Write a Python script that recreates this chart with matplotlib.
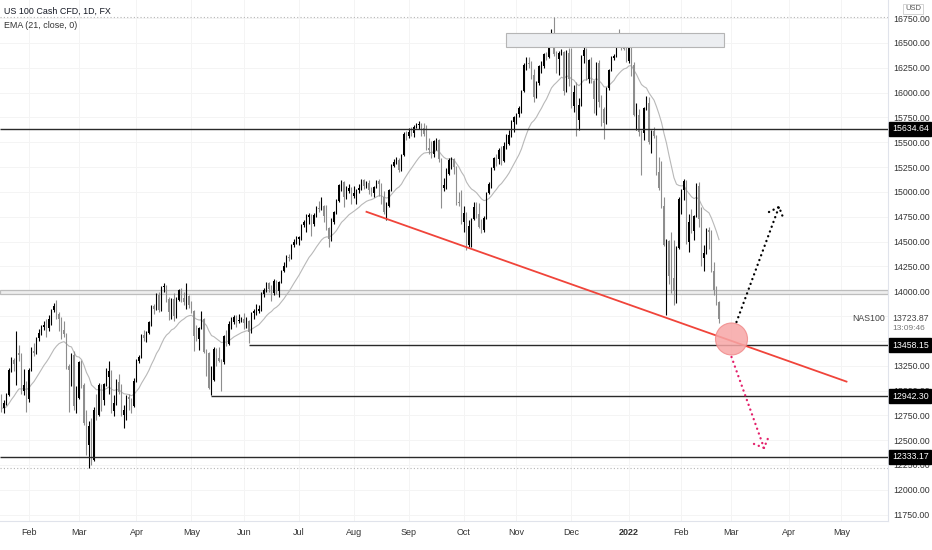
import numpy as np
import pandas as pd
import matplotlib
matplotlib.use("Agg")
import matplotlib.pyplot as plt
from matplotlib.patches import Rectangle, Ellipse
from matplotlib.transforms import blended_transform_factory

plt.rcParams['font.family'] = ['Liberation Sans', 'DejaVu Sans']

# daily candles, US 100 cash CFD, 2021-01-15 .. 2022-02-22 (weekdays)
start = "2021-01-15"

opens = [
    12930, 12820, 12870, 12950, 13210, 13310, 13270, 13380, 13360, 13000, 13060,
    12910, 13210, 13400, 13380, 13530, 13580, 13640, 13660, 13630, 13720, 13810, 13850, 13770, 13720, 13610, 13570, 13250, 13210, 13360, 12840,
    12920, 13290, 13060, 12670, 12450, 12640, 12300, 12800, 12750, 13060, 12900, 13070, 13140, 13200, 12790, 12870, 13090, 12990, 12750, 12800, 12930, 12910, 12840,
    13100, 13300, 13340, 13560, 13530, 13580, 13690, 13850, 13820, 13960, 13810, 14040, 14050, 13920, 13790, 13920, 13750, 13910, 14010, 13930, 13890, 13950,
    13860, 13800, 13550, 13520, 13630, 13720, 13390, 13380, 13030, 13110, 13420, 13330, 13300, 13290, 13550, 13470, 13670, 13690, 13740, 13700, 13710,
    13720, 13680, 13700, 13590, 13780, 13800, 13800, 13820, 13970, 14010, 14080, 14020, 13980, 14100, 14000, 14090, 14200, 14250, 14340, 14330, 14470, 14500,
    14530, 14550, 14670, 14700, 14750, 14770, 14680, 14770, 14840, 14830, 14860, 14760, 14640, 14530, 14700, 14800, 14910, 15070, 15100, 14950, 15010, 15040,
    14960, 14990, 15020, 15040, 15120, 15060, 15090, 15020, 14990, 15050, 15110, 15080, 14950, 14800, 14860, 15020, 15260, 15300, 15320, 15220, 15370, 15580,
    15560, 15600, 15590, 15650, 15670, 15680, 15640, 15580, 15440, 15420, 15380, 15510, 15520, 15330, 15040, 15070, 15180, 15320, 15330, 15250, 14900, 14890,
    14700, 14790, 14470, 14660, 14730, 14850, 14780, 14650, 14620, 14740, 14990, 15080, 15240, 15340, 15330, 15420, 15310, 15460, 15480, 15570, 15700,
    15750, 15780, 15850, 16020, 16280, 16300, 16290, 16180, 15960, 16100, 16270, 16270, 16390, 16360, 16560, 16600, 16390, 16340, 16400, 16410, 16020, 16400,
    16140, 15870, 16010, 15720, 15880, 16370, 16430, 16140, 16330, 16120, 15940, 16300, 15910, 15840, 15690, 16050, 16230, 16350, 16370, 16570, 16490, 16480, 16440,
    16320, 16500, 16280, 15770, 15770, 15600, 15590, 15850, 15900, 15500, 15610, 15560, 15200, 15040, 14860, 14470, 14510, 14150, 14130, 14000, 14440,
    14930, 15020, 15110, 14500, 14700, 14610, 14760, 15060, 14730, 14330, 14380, 14620, 14600, 14200, 14010, 13890,
]
highs = [
    12960, 12900, 12980, 13230, 13340, 13330, 13600, 13460, 13380, 13220, 13100,
    13230, 13440, 13480, 13540, 13620, 13660, 13700, 13720, 13760, 13820, 13880, 13910, 13790, 13740, 13700, 13580, 13270, 13380, 13400, 13050,
    13300, 13310, 13080, 12800, 12690, 12720, 12830, 12960, 13080, 13070, 13080, 13230, 13300, 13210, 12950, 13120, 13170, 13070, 12850, 12950, 12970, 12920, 13130,
    13320, 13360, 13570, 13610, 13600, 13700, 13860, 13870, 13980, 13990, 14050, 14080, 14060, 13940, 13930, 13980, 13940, 14020, 14030, 13990, 14080, 13960,
    13900, 13810, 13660, 13640, 13800, 13730, 13420, 13390, 13250, 13440, 13430, 13440, 13320, 13560, 13610, 13700, 13740, 13760, 13760, 13770, 13740,
    13780, 13740, 13710, 13790, 13820, 13870, 13860, 13990, 14030, 14090, 14090, 14060, 14120, 14110, 14100, 14210, 14290, 14360, 14370, 14480, 14530, 14560,
    14560, 14680, 14720, 14780, 14790, 14780, 14790, 14860, 14910, 14950, 14870, 14870, 14650, 14740, 14810, 14930, 15080, 15120, 15110, 15060, 15080, 15050,
    15060, 15030, 15080, 15130, 15130, 15110, 15120, 15050, 15060, 15120, 15130, 15090, 15010, 14900, 15030, 15280, 15330, 15350, 15340, 15380, 15600, 15610,
    15640, 15650, 15670, 15690, 15710, 15690, 15690, 15670, 15540, 15510, 15520, 15540, 15530, 15340, 15140, 15240, 15340, 15350, 15340, 15260, 15000, 15020,
    14860, 14800, 14720, 14740, 14900, 14900, 14890, 14730, 14760, 15000, 15100, 15250, 15350, 15380, 15440, 15460, 15500, 15580, 15620, 15720, 15760,
    15800, 15870, 16030, 16300, 16360, 16360, 16320, 16240, 16120, 16280, 16320, 16400, 16410, 16580, 16640, 16760, 16420, 16420, 16440, 16420, 16430, 16450,
    16450, 16080, 16110, 15950, 16380, 16460, 16450, 16340, 16360, 16130, 16310, 16330, 15980, 15860, 16060, 16240, 16370, 16390, 16580, 16640, 16580, 16590, 16530,
    16580, 16570, 16310, 15900, 15840, 15620, 15860, 15970, 15960, 15620, 15650, 15570, 15350, 15310, 14950, 14530, 14520, 14600, 14520, 14460, 14950,
    15030, 15130, 15120, 14780, 14830, 14770, 15090, 15100, 14850, 14470, 14640, 14650, 14620, 14290, 14050, 13900,
]
lows = [
    12780, 12770, 12850, 12940, 13190, 13200, 13060, 13300, 12960, 12950, 12780,
    12880, 13200, 13350, 13370, 13500, 13560, 13610, 13540, 13600, 13660, 13790, 13720, 13600, 13520, 13540, 13220, 12780, 13050, 12800, 12770,
    12910, 13030, 12650, 12350, 12220, 12250, 12290, 12700, 12740, 12790, 12850, 13050, 12960, 12770, 12740, 12850, 12960, 12740, 12620, 12700, 12800, 12770, 12830,
    13090, 13280, 13330, 13500, 13490, 13570, 13650, 13770, 13810, 13790, 13800, 13990, 13890, 13710, 13720, 13700, 13730, 13900, 13890, 13860, 13820, 13830,
    13780, 13400, 13500, 13410, 13620, 13380, 13150, 13020, 12950, 13100, 13250, 13290, 13000, 13270, 13450, 13460, 13620, 13670, 13640, 13680, 13690,
    13620, 13630, 13480, 13580, 13720, 13760, 13780, 13800, 13940, 13990, 13990, 13900, 13960, 13970, 13940, 14080, 14190, 14240, 14300, 14320, 14450, 14480,
    14470, 14520, 14650, 14600, 14680, 14560, 14660, 14750, 14800, 14820, 14700, 14620, 14450, 14510, 14680, 14780, 14900, 15010, 14850, 14930, 14990, 14880,
    14940, 14880, 14990, 15020, 15030, 15040, 14980, 14960, 14950, 15040, 14960, 14880, 14780, 14720, 14850, 15010, 15250, 15280, 15200, 15210, 15360, 15520,
    15540, 15560, 15550, 15640, 15630, 15560, 15560, 15420, 15380, 15340, 15350, 15420, 15300, 14840, 15010, 15030, 15170, 15230, 15180, 14870, 14860, 14680,
    14600, 14420, 14450, 14450, 14720, 14740, 14640, 14590, 14600, 14730, 14980, 15040, 15220, 15260, 15280, 15270, 15300, 15430, 15470, 15550, 15600,
    15680, 15750, 15800, 16010, 16230, 16250, 16140, 15910, 15950, 16080, 16200, 16250, 16330, 16350, 16510, 16370, 16200, 16180, 16380, 15980, 16010, 16070,
    15850, 15810, 15560, 15620, 15870, 16300, 16130, 16100, 16100, 15800, 15770, 15860, 15660, 15530, 15680, 16030, 16220, 16330, 16360, 16470, 16430, 16430, 16310,
    16300, 16170, 15760, 15620, 15560, 15170, 15520, 15830, 15480, 15390, 15540, 15170, 15020, 14840, 14460, 13760, 14070, 13980, 13860, 13880, 14430,
    14780, 14920, 14480, 14400, 14590, 14520, 14750, 14650, 14250, 14200, 14370, 14430, 14190, 13960, 13860, 13680,
]
closes = [
    12820, 12870, 12950, 13210, 13310, 13270, 13380, 13360, 13000, 13060, 12910,
    13210, 13400, 13380, 13530, 13580, 13640, 13660, 13630, 13720, 13810, 13850, 13770, 13720, 13610, 13570, 13250, 13210, 13360, 12840, 12920,
    13290, 13060, 12670, 12450, 12640, 12300, 12800, 12750, 13060, 12900, 13070, 13140, 13200, 12790, 12870, 13090, 12990, 12750, 12800, 12930, 12910, 12840, 13100,
    13300, 13340, 13560, 13530, 13580, 13690, 13850, 13820, 13960, 13810, 14040, 14050, 13920, 13790, 13920, 13750, 13910, 14010, 13930, 13890, 13950, 13860,
    13800, 13550, 13520, 13630, 13720, 13390, 13380, 13030, 13110, 13420, 13330, 13300, 13290, 13550, 13470, 13670, 13690, 13740, 13700, 13710, 13720,
    13680, 13700, 13590, 13780, 13800, 13800, 13820, 13970, 14010, 14080, 14020, 13980, 14100, 14000, 14090, 14200, 14250, 14340, 14330, 14470, 14500, 14530,
    14550, 14670, 14700, 14750, 14770, 14680, 14770, 14840, 14830, 14860, 14760, 14640, 14530, 14700, 14800, 14910, 15070, 15100, 14950, 15010, 15040, 14960,
    14990, 15020, 15040, 15120, 15060, 15090, 15020, 14990, 15050, 15110, 15080, 14950, 14800, 14860, 15020, 15260, 15300, 15320, 15220, 15370, 15580, 15560,
    15600, 15590, 15650, 15670, 15680, 15640, 15580, 15440, 15420, 15380, 15510, 15520, 15330, 15040, 15070, 15180, 15320, 15330, 15250, 14900, 14890, 14700,
    14790, 14470, 14660, 14730, 14850, 14780, 14650, 14620, 14740, 14990, 15080, 15240, 15340, 15330, 15420, 15310, 15460, 15480, 15570, 15700, 15750,
    15780, 15850, 16020, 16280, 16300, 16290, 16180, 15960, 16100, 16270, 16270, 16390, 16360, 16560, 16600, 16390, 16340, 16400, 16410, 16020, 16400, 16140,
    15870, 16010, 15720, 15880, 16370, 16430, 16140, 16330, 16120, 15940, 16300, 15910, 15840, 15690, 16050, 16230, 16350, 16370, 16570, 16490, 16480, 16440, 16320,
    16500, 16280, 15770, 15770, 15600, 15590, 15850, 15900, 15500, 15610, 15560, 15200, 15040, 14860, 14470, 14510, 14150, 14130, 14000, 14440, 14930,
    15020, 15110, 14500, 14700, 14610, 14760, 15060, 14730, 14330, 14380, 14620, 14600, 14200, 14010, 13890, 13724,
]

# drawn levels / annotations
level_prices = [15634.64, 13458.15, 12942.30, 12333.17]
level_starts = [None, "2021-06-03", "2021-05-13", None]
last_price = 13723.87
countdown = "13:09:46"
hidden_ticks = [13750, 13500]   # covered by the price labels
zone_dates = ["2021-10-26", "2022-02-24"]
zone_prices = [16460, 16600]
band_prices = [13975, 14015]
trend_dates = ["2021-08-09", "2022-05-04"]
trend_prices = [14800, 13090]
circle_date, circle_price = "2022-03-01", 13519
up_dates = ["2022-03-03", "2022-03-28"]
up_prices = [13690, 14849]
up_head_dates = ["2022-03-22", "2022-03-28", "2022-03-30"]
up_head_prices = [14798, 14849, 14718]
dn_dates = ["2022-03-01", "2022-03-18"]
dn_prices = [13338, 12422]
dn_head_dates = ["2022-03-14", "2022-03-18", "2022-03-22"]
dn_head_prices = [12462, 12422, 12543]


def bx(day):
    return np.busday_count(start, np.datetime64(day, 'D'))


o = np.array(opens, float)
h = np.array(highs, float)
l = np.array(lows, float)
c = np.array(closes, float)
x = np.arange(len(c))
ema = pd.Series(c).ewm(span=21, adjust=False).mean()

fig = plt.figure(figsize=(9.32, 5.5), dpi=100)
ax = fig.add_axes([0, 1 - 521 / 550, 888 / 932, 521 / 550])
ax.set_xlim(-0.6, 354.6)
ax.set_ylim(11686, 16933)

up = c >= o
col = np.where(up, '#000000', '#8e8e8e')
ax.vlines(x, l, h, colors=col, lw=0.8, zorder=3)
ax.bar(x, np.maximum(np.abs(c - o), 8), bottom=np.minimum(o, c), width=0.62,
       color=col, lw=0, zorder=3)
ax.plot(x, ema, color='#b8b8b8', lw=0.8, zorder=2)

# range high / low dotted
ax.axhline(h.max(), color='#b5b5b5', lw=0.8, ls=(0, (1, 2)), zorder=1)
ax.axhline(l.min(), color='#b5b5b5', lw=0.8, ls=(0, (1, 2)), zorder=1)

# zones
ax.axhspan(band_prices[0], band_prices[1], fc='#eeeeee', ec='#bdbdbd', lw=0.9, zorder=1)
ax.add_patch(Rectangle((bx(zone_dates[0]), zone_prices[0]), bx(zone_dates[1]) - bx(zone_dates[0]),
                       zone_prices[1] - zone_prices[0], fc='#eceef1', ec='#b5b5b5', lw=0.8, zorder=4))

# horizontal levels
for p, s in zip(level_prices, level_starts):
    x0 = -0.6 if s is None else bx(s)
    ax.hlines(p, x0, 354.6, color='#2a2a2a', lw=1.0, zorder=4)

ax.plot([bx(d) for d in trend_dates], trend_prices, color='#f0443a', lw=1.3, zorder=5)
ax.add_patch(Ellipse((bx(circle_date), circle_price), 12.8, 322, fc='#f7a6a6', ec='#f08a8a',
                     lw=0.8, alpha=0.85, zorder=6))

dots = dict(lw=1.7, ls=(0, (0.05, 2.1)), dash_capstyle='round', zorder=6)
ax.plot([bx(d) for d in up_dates], up_prices, color='#000000', **dots)
ax.plot([bx(d) for d in up_head_dates], up_head_prices, color='#000000', **dots)
ax.plot([bx(d) for d in dn_dates], dn_prices, color='#e3206a', **dots)
ax.plot([bx(d) for d in dn_head_dates], dn_head_prices, color='#e3206a', **dots)

# axes styling
for side in ['top', 'left']:
    ax.spines[side].set_visible(False)
for side in ['right', 'bottom']:
    ax.spines[side].set_color('#e0e3eb')

yt = np.arange(11750, 16751, 250)
ax.set_yticks(yt)
ax.set_yticklabels(["" if v in hidden_ticks else f"{v:.2f}" for v in yt])
ax.yaxis.tick_right()
ax.tick_params(axis='y', length=0, pad=4, labelsize=6.3, labelcolor='#333333')

months = pd.date_range("2021-02-01", "2022-05-01", freq="MS")
mt = [bx(np.busday_offset(np.datetime64(m.date(), 'D'), 0, roll='forward')) for m in months]
ml = ["2022" if m.month == 1 else m.strftime("%b") for m in months]
ax.set_xticks(mt)
ax.set_xticklabels(ml)
ax.tick_params(axis='x', length=0, pad=5, labelsize=6.5, labelcolor='#333333')
for lab in ax.get_xticklabels():
    if lab.get_text() == "2022":
        lab.set_fontweight('bold')
ax.grid(color='#f4f4f4', lw=0.7, zorder=0)
ax.set_axisbelow(True)

tr = blended_transform_factory(ax.transAxes, ax.transData)
for p in level_prices:
    ax.text(1.0045, p, f"{p:.2f}", transform=tr, fontsize=6.3, color='white', va='center', ha='left',
            bbox=dict(boxstyle='square,pad=0.3', fc='#000000', ec='#000000'), clip_on=False, zorder=10)
ax.text(1.0045, last_price, f"{last_price:.2f}", transform=tr, fontsize=6.3, color='#444444',
        va='center', ha='left', clip_on=False)
ax.text(1.0045, last_price - 95, countdown, transform=tr, fontsize=6, color='#777777',
        va='center', ha='left', clip_on=False)
ax.text(0.9965, last_price, "NAS100", transform=tr, fontsize=6.3, color='#444444', va='center', ha='right')

fig.text(913 / 932, 1 - 9 / 550, "USD", fontsize=5.5, color='#555555', ha='center', va='center',
         bbox=dict(boxstyle='square,pad=0.2', fc='white', ec='#cccccc', lw=0.6))
fig.text(4 / 932, 1 - 11 / 550, "US 100 Cash CFD, 1D, FX", fontsize=6.4, color='#131722',
         va='center')
fig.text(4 / 932, 1 - 25 / 550, "EMA (21, close, 0)", fontsize=6.4, color='#333333', va='center')

fig.savefig("out.png", dpi=100)
